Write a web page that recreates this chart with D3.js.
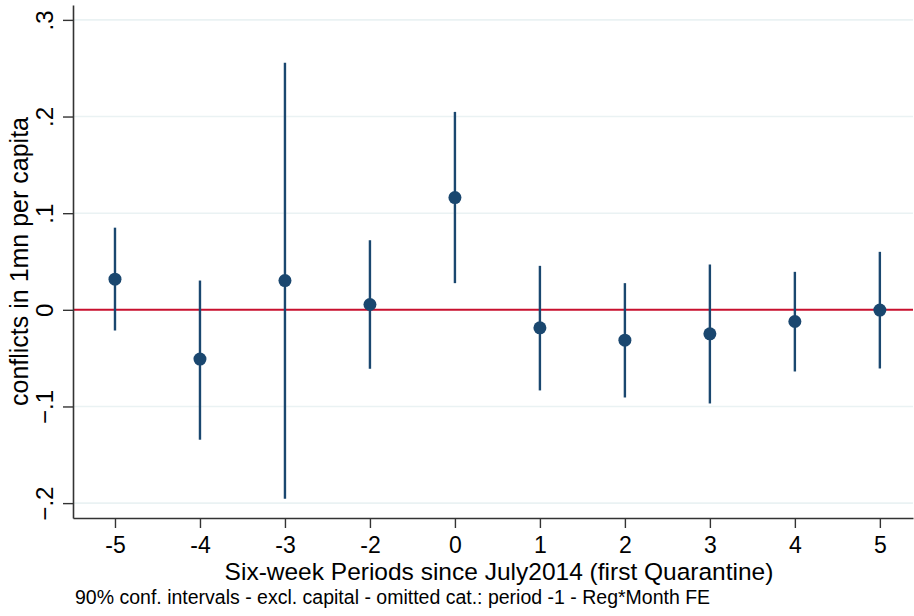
<!DOCTYPE html>
<html>
<head>
<meta charset="utf-8">
<script src="https://cdn.jsdelivr.net/npm/d3@7"></script>
<style>
  body { margin: 0; background: #fff; }
  svg { display: block; font-family: "Liberation Sans", Arial, Helvetica, sans-serif; }
</style>
</head>
<body>
<svg id="chart"></svg>
<script>
// six-week periods (period -1 is the omitted category)
const periods = [-5, -4, -3, -2, 0, 1, 2, 3, 4, 5];
const estimates = [0.0317, -0.051, 0.0303, 0.0055, 0.1161, -0.0186, -0.0314, -0.0248, -0.0121, -0.0003];
const ciLow = [-0.0214, -0.1344, -0.1955, -0.061, 0.0276, -0.0834, -0.0907, -0.0969, -0.0638, -0.0607];
const ciHigh = [0.085, 0.0303, 0.2557, 0.072, 0.2048, 0.0455, 0.0276, 0.0469, 0.0393, 0.06];
const yTicks = [-0.2, -0.1, 0, 0.1, 0.2, 0.3];

const width = 914, height = 616;
const margin = { top: 5, right: 1, bottom: 98, left: 73 };

const svg = d3.select("#chart")
    .attr("width", width)
    .attr("height", height);

const x = d3.scaleLinear()
    .domain([-0.494, 9.39])
    .range([margin.left, width - margin.right]);

const y = d3.scaleLinear()
    .domain([-0.2154, 0.3154])
    .range([height - margin.bottom, margin.top]);

// grid lines
svg.append("g")
    .selectAll("line")
    .data(yTicks.filter(d => d !== 0))
    .join("line")
    .attr("x1", margin.left)
    .attr("x2", width - margin.right)
    .attr("y1", d => y(d))
    .attr("y2", d => y(d))
    .attr("stroke", "#eaf2f3")
    .attr("stroke-width", 1.6);

// reference line at zero
svg.append("line")
    .attr("x1", margin.left)
    .attr("x2", width - margin.right)
    .attr("y1", y(0))
    .attr("y2", y(0))
    .attr("stroke", "#c8102e")
    .attr("stroke-width", 2);

// y axis
const yAxis = svg.append("g")
    .attr("transform", `translate(${margin.left},0)`)
    .call(d3.axisLeft(y)
        .tickValues(yTicks)
        .tickSize(10)
        .tickSizeOuter(0)
        .tickFormat(d => d === 0 ? "0" : d3.format(".1f")(d).replace("0.", ".")));
yAxis.select(".domain").attr("stroke", "#333").attr("stroke-width", 1.6);
yAxis.selectAll(".tick line").attr("stroke", "#333").attr("stroke-width", 1.4);
yAxis.selectAll(".tick text")
    .attr("fill", "#000")
    .attr("font-size", 24)
    .attr("text-anchor", "middle")
    .attr("dy", 0)
    .attr("transform", "rotate(-90)")
    .attr("x", 0)
    .attr("y", -20);

// x axis
const xAxis = svg.append("g")
    .attr("transform", `translate(0,${height - margin.bottom})`)
    .call(d3.axisBottom(x)
        .tickValues(d3.range(periods.length))
        .tickSize(10)
        .tickSizeOuter(0)
        .tickFormat(i => periods[i]));
xAxis.select(".domain").attr("stroke", "#333").attr("stroke-width", 1.6);
xAxis.selectAll(".tick line").attr("stroke", "#333").attr("stroke-width", 1.4);
xAxis.selectAll(".tick text")
    .attr("fill", "#000")
    .attr("font-size", 23)
    .attr("dy", 0)
    .attr("y", 35);

// confidence intervals
svg.append("g")
    .attr("stroke", "#1a476f")
    .attr("stroke-width", 2.4)
    .selectAll("line")
    .data(periods)
    .join("line")
    .attr("x1", (_, i) => x(i))
    .attr("x2", (_, i) => x(i))
    .attr("y1", (_, i) => y(ciLow[i]))
    .attr("y2", (_, i) => y(ciHigh[i]));

// point estimates
svg.append("g")
    .attr("fill", "#1a476f")
    .selectAll("circle")
    .data(estimates)
    .join("circle")
    .attr("cx", (_, i) => x(i))
    .attr("cy", d => y(d))
    .attr("r", 6.5);

// titles
svg.append("text")
    .attr("transform", `translate(28,${(margin.top + height - margin.bottom) / 2}) rotate(-90)`)
    .attr("text-anchor", "middle")
    .attr("font-size", 25)
    .text("conflicts in 1mn per capita");

svg.append("text")
    .attr("x", 499)
    .attr("y", 580)
    .attr("text-anchor", "middle")
    .attr("font-size", 24.5)
    .text("Six-week Periods since July2014 (first Quarantine)");

svg.append("text")
    .attr("x", 75)
    .attr("y", 604)
    .attr("font-size", 19.5)
    .text("90% conf. intervals - excl. capital - omitted cat.: period -1 - Reg*Month FE");
</script>
</body>
</html>
